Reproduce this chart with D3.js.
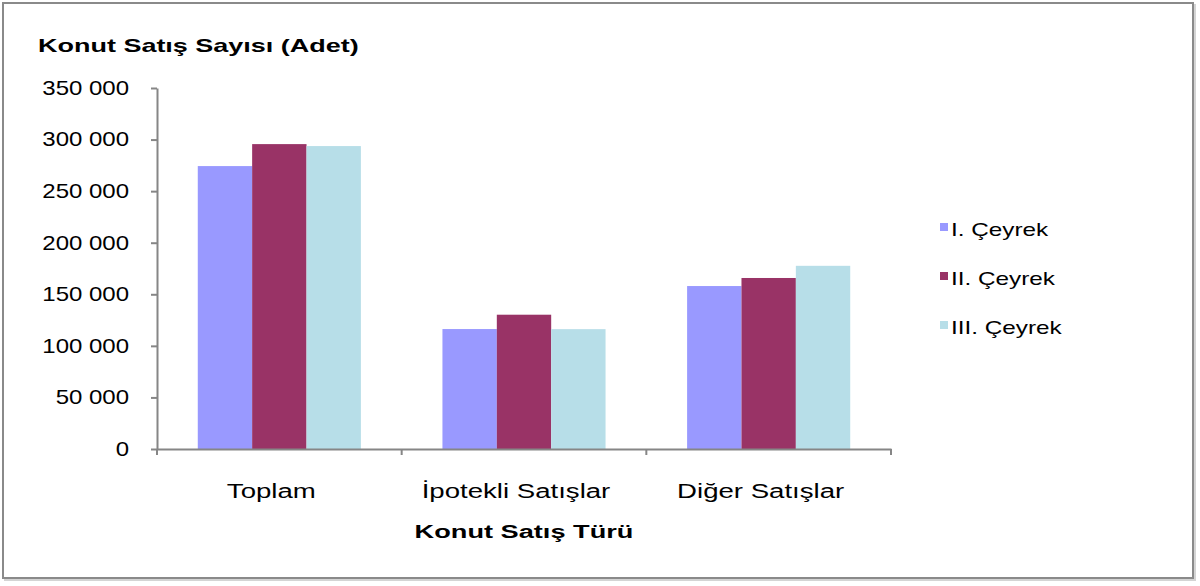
<!DOCTYPE html>
<html>
<head>
<meta charset="utf-8">
<script src="https://cdn.jsdelivr.net/npm/d3@7"></script>
<style>
  body { margin: 0; background: #fff; }
  text { font-family: "Liberation Sans", Arial, sans-serif; fill: #000; }
</style>
</head>
<body>
<div id="container"></div>
<script>
/* DATA */
const categories = ["Toplam", "İpotekli Satışlar", "Diğer Satışlar"];
const seriesNames = ["I. Çeyrek", "II. Çeyrek", "III. Çeyrek"];
const q1 = [274300, 116300, 158000];
const q2 = [295600, 130200, 165800];
const q3 = [293700, 116200, 177600];
const yTicks = [0, 50000, 100000, 150000, 200000, 250000, 300000, 350000];
const colors = ["#9999FF", "#993366", "#B7DEE8"];

const yTitle = "Konut Satış Sayısı (Adet)";
const xTitle = "Konut Satış Türü";

/* CONSTANTS */
const width = 1200, height = 586;
const plot = { left: 157, right: 891, top: 88, bottom: 449 };

const seriesValues = [q1, q2, q3];
const rows = categories.map((c, i) => ({
  category: c,
  values: seriesNames.map((s, j) => ({ series: s, value: seriesValues[j][i], color: colors[j] }))
}));

const svg = d3.select("#container")
  .append("svg")
  .attr("width", width)
  .attr("height", height);

// outer frame
svg.append("rect")
  .attr("x", 5).attr("y", 5)
  .attr("width", 1190).attr("height", 575)
  .attr("fill", "none").attr("stroke", "#d4d4d4").attr("stroke-width", 2);
svg.append("rect")
  .attr("x", 3).attr("y", 3)
  .attr("width", 1190).attr("height", 575)
  .attr("fill", "#fff").attr("stroke", "#8a8a8a").attr("stroke-width", 2);

/* SCALES */
const xScale = d3.scaleBand()
  .domain(categories)
  .range([plot.left, plot.right]);

const xInner = d3.scaleBand()
  .domain(seriesNames)
  .range([0, xScale.bandwidth()])
  .paddingOuter(0.75);

const yScale = d3.scaleLinear()
  .domain([0, 350000])
  .range([plot.bottom, plot.top]);

const fmt = d3.formatLocale({ decimal: ",", thousands: " ", grouping: [3], currency: ["", ""] }).format(",d");

/* BARS */
const groups = svg.append("g")
  .selectAll("g")
  .data(rows)
  .join("g")
  .attr("transform", d => `translate(${xScale(d.category)},0)`);

groups.selectAll("rect")
  .data(d => d.values)
  .join("rect")
  .attr("x", d => xInner(d.series))
  .attr("y", d => yScale(d.value))
  .attr("width", xInner.bandwidth())
  .attr("height", d => yScale(0) - yScale(d.value))
  .attr("fill", d => d.color);

/* AXES */
const tickPad = 22, tickLen = 6, tickSx = 1.2;
const yAxis = d3.axisLeft(yScale)
  .tickValues(yTicks)
  .tickFormat(fmt)
  .tickSize(tickLen)
  .tickSizeOuter(0)
  .tickPadding(tickPad);

const yAxisGroup = svg.append("g")
  .attr("transform", `translate(${plot.left},0)`)
  .call(yAxis);
yAxisGroup.selectAll("text")
  .attr("font-size", 20)
  .attr("font-family", null)
  .attr("x", -(tickPad + tickLen) / tickSx)
  .attr("transform", `scale(${tickSx},1)`);

const xAxis = d3.axisBottom(xScale)
  .tickValues([])
  .tickSizeOuter(0);

const xAxisGroup = svg.append("g")
  .attr("transform", `translate(0,${plot.bottom})`)
  .call(xAxis);

// category boundary ticks
svg.append("g")
  .selectAll("line")
  .data(categories.concat([null]))
  .join("line")
  .attr("x1", d => d === null ? plot.right : xScale(d))
  .attr("x2", d => d === null ? plot.right : xScale(d))
  .attr("y1", plot.bottom)
  .attr("y2", plot.bottom + 6);

svg.selectAll(".domain, .tick line, g > line")
  .attr("stroke", "#868686")
  .attr("stroke-width", 2);

// category labels
const catSx = 1.38;
svg.append("g")
  .selectAll("text")
  .data(categories)
  .join("text")
  .attr("transform", d => `translate(${xScale(d) + xScale.bandwidth() / 2 - 8},498) scale(${catSx},1)`)
  .attr("text-anchor", "middle")
  .attr("font-size", 20)
  .text(d => d);

// axis titles
svg.append("text")
  .attr("transform", "translate(38,52) scale(1.42,1)")
  .attr("font-size", 19)
  .attr("font-weight", "bold")
  .text(yTitle);

svg.append("text")
  .attr("transform", `translate(${(plot.left + plot.right) / 2},538) scale(1.43,1)`)
  .attr("text-anchor", "middle")
  .attr("font-size", 19)
  .attr("font-weight", "bold")
  .text(xTitle);

/* LEGEND */
const legendY = d3.scalePoint()
  .domain(seriesNames)
  .range([229, 327]);

const legend = svg.append("g")
  .selectAll("g")
  .data(seriesNames)
  .join("g")
  .attr("transform", d => `translate(940,${legendY(d)})`);

legend.append("rect")
  .attr("x", 0).attr("y", -6)
  .attr("width", 8).attr("height", 8)
  .attr("fill", (d, i) => colors[i]);

legend.append("text")
  .attr("transform", "translate(11,7) scale(1.35,1)")
  .attr("font-size", 18)
  .text(d => d);
</script>
</body>
</html>
